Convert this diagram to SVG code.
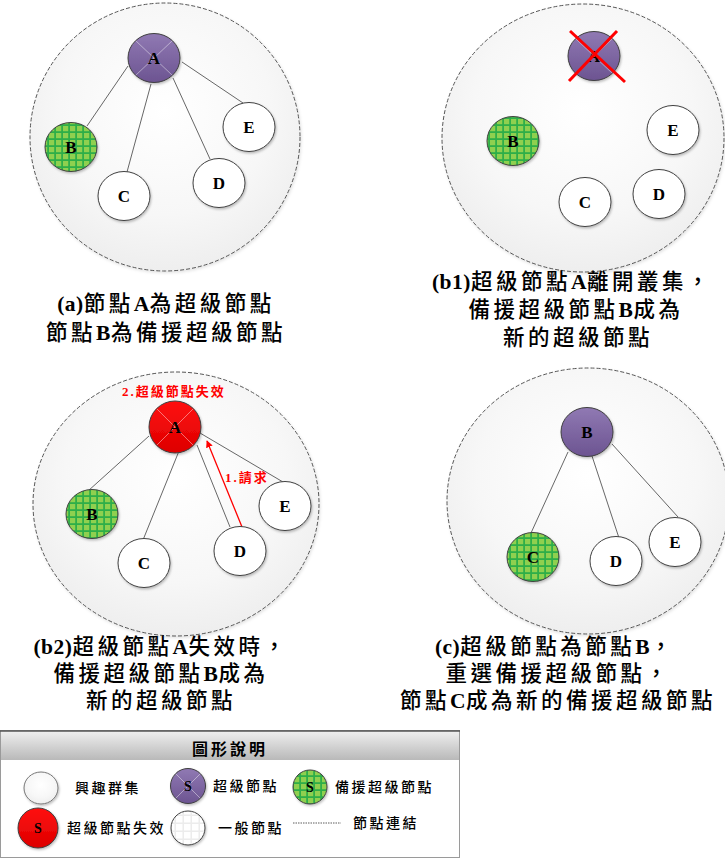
<svg xmlns="http://www.w3.org/2000/svg" width="725" height="858" viewBox="0 0 725 858">
<style>
.grp{fill:url(#gGrp);stroke:#555;stroke-width:1;stroke-dasharray:4 2}
.sup{fill:url(#gPur);stroke:#3f3f3f;stroke-width:1}
.bak{fill:url(#pGreen);stroke:#404040;stroke-width:1}
.nor{fill:#fff;stroke:#404040;stroke-width:1}
.fail{fill:url(#gRed);stroke:#3f3f3f;stroke-width:1}
.xl{stroke:#fff;stroke-opacity:0.55;stroke-width:0.8}
.lnk{stroke:#404040;stroke-width:0.8;fill:none}
.lbl{font-family:"Liberation Serif",serif;font-weight:bold;font-size:17px;fill:#000;text-anchor:middle}
.cap{font-family:"Liberation Serif","Noto Sans CJK TC",serif;font-size:21.5px;letter-spacing:3.5px;fill:#000;text-anchor:middle;font-weight:500}
.b{font-weight:bold;letter-spacing:0.5px}
.red{font-family:"Liberation Serif","Noto Sans CJK TC",serif;font-size:13px;letter-spacing:2px;fill:#ff0000;font-weight:bold}
.leg{font-family:"Liberation Serif","Noto Sans CJK TC",serif;font-size:14px;letter-spacing:2.5px;fill:#000;font-weight:500}
.sl{font-family:"Liberation Serif",serif;font-weight:bold;font-size:14px;fill:#000;text-anchor:middle}
.sh{filter:url(#shadow)}
.shs{filter:url(#shadowS)}
</style>
<defs>
<radialGradient id="gGrp" cx="0.5" cy="0.4" r="0.65">
<stop offset="0" stop-color="#ffffff"/>
<stop offset="0.6" stop-color="#f7f7f7"/>
<stop offset="1" stop-color="#ececec"/>
</radialGradient>
<linearGradient id="gPur" x1="0" y1="0" x2="0" y2="1">
<stop offset="0" stop-color="#9079b3"/>
<stop offset="1" stop-color="#6c5491"/>
</linearGradient>
<linearGradient id="gRed" x1="0" y1="0" x2="0" y2="1">
<stop offset="0" stop-color="#ff1010"/>
<stop offset="1" stop-color="#dd0000"/>
</linearGradient>
<linearGradient id="gHead" x1="0" y1="0" x2="0" y2="1">
<stop offset="0" stop-color="#efefef"/>
<stop offset="1" stop-color="#b9b9b9"/>
</linearGradient>
<pattern id="pGreen" width="7" height="7" patternUnits="userSpaceOnUse">
<rect width="7" height="7" fill="#2fae48"/>
<rect x="0" y="0" width="5.2" height="5.2" fill="#8fd04f"/>
</pattern>
<pattern id="pGrey" width="8" height="8" patternUnits="userSpaceOnUse">
<rect width="8" height="8" fill="#ececec"/>
<rect x="0" y="0" width="6.5" height="6.5" fill="#ffffff"/>
</pattern>
<filter id="shadow" x="-20%" y="-20%" width="140%" height="140%">
<feDropShadow dx="1" dy="1.5" stdDeviation="1.2" flood-color="#000" flood-opacity="0.25"/>
</filter>
<filter id="shadowS" x="-10%" y="-10%" width="120%" height="120%">
<feDropShadow dx="1" dy="1.5" stdDeviation="1.5" flood-color="#000" flood-opacity="0.12"/>
</filter>
<marker id="arrR" viewBox="0 0 10 10" refX="9" refY="5" markerWidth="7" markerHeight="7" orient="auto" markerUnits="userSpaceOnUse">
<path d="M0,0 L10,5 L0,10 z" fill="#ff0000"/>
</marker>
</defs>

<!-- Panel (a) -->
<g id="panel-a">
<ellipse id="group-a" class="grp shs" cx="165" cy="137" rx="135" ry="134"/>
<g id="links-a">
<line class="lnk" x1="128" y1="66" x2="87" y2="126"/>
<line class="lnk" x1="151" y1="84" x2="127" y2="172"/>
<line class="lnk" x1="173" y1="78" x2="210" y2="159"/>
<line class="lnk" x1="182" y1="62" x2="243" y2="103"/>
</g>
<g id="a-A"><ellipse class="sup sh" cx="154" cy="58" rx="26" ry="24.5"/><line class="xl" x1="136" y1="41" x2="172" y2="75"/><line class="xl" x1="172" y1="41" x2="136" y2="75"/><text class="lbl" x="154" y="64">A</text></g>
<g id="a-B"><ellipse class="bak sh" cx="71" cy="147" rx="26" ry="24.5"/><text class="lbl" x="71" y="153">B</text></g>
<g id="a-C"><ellipse class="nor sh" cx="124" cy="196" rx="26" ry="24.5"/><text class="lbl" x="124" y="202">C</text></g>
<g id="a-D"><ellipse class="nor sh" cx="219" cy="183" rx="26" ry="24.5"/><text class="lbl" x="219" y="189">D</text></g>
<g id="a-E"><ellipse class="nor sh" cx="249" cy="127" rx="26" ry="24.5"/><text class="lbl" x="249" y="133">E</text></g>
<text id="cap-a" class="cap"><tspan x="166" y="311"><tspan class="b">(a)</tspan>節點<tspan class="b">A</tspan>為超級節點</tspan><tspan x="166" y="340">節點<tspan class="b">B</tspan>為備援超級節點</tspan></text>
</g>

<!-- Panel (b1) -->
<g id="panel-b1">
<ellipse id="group-b1" class="grp shs" cx="583" cy="138" rx="141" ry="134"/>
<g id="b1-A"><ellipse class="sup sh" cx="594" cy="56" rx="26" ry="24.5"/><line class="xl" x1="576" y1="39" x2="612" y2="73"/><line class="xl" x1="612" y1="39" x2="576" y2="73"/><text class="lbl" x="594" y="62">A</text>
<line x1="570" y1="31" x2="625" y2="82" stroke="#ff0000" stroke-width="3"/><line x1="617" y1="31" x2="569" y2="81" stroke="#ff0000" stroke-width="3"/></g>
<g id="b1-B"><ellipse class="bak sh" cx="513" cy="141" rx="26" ry="24.5"/><text class="lbl" x="513" y="147">B</text></g>
<g id="b1-C"><ellipse class="nor sh" cx="585" cy="202" rx="26" ry="24.5"/><text class="lbl" x="585" y="208">C</text></g>
<g id="b1-D"><ellipse class="nor sh" cx="659" cy="194" rx="26" ry="24.5"/><text class="lbl" x="659" y="200">D</text></g>
<g id="b1-E"><ellipse class="nor sh" cx="673" cy="130" rx="26" ry="24.5"/><text class="lbl" x="673" y="136">E</text></g>
<text id="cap-b1" class="cap"><tspan x="572" y="289"><tspan class="b">(b1)</tspan>超級節點<tspan class="b">A</tspan>離開叢集，</tspan><tspan x="576" y="317">備援超級節點<tspan class="b">B</tspan>成為</tspan><tspan x="578" y="345">新的超級節點</tspan></text>
</g>

<!-- Panel (b2) -->
<g id="panel-b2">
<ellipse id="group-b2" class="grp shs" cx="176" cy="504" rx="143" ry="132"/>
<g id="links-b2">
<line class="lnk" x1="149" y1="436" x2="88" y2="491"/>
<line class="lnk" x1="179" y1="451" x2="143" y2="540"/>
<line class="lnk" x1="197" y1="445" x2="230" y2="527"/>
<line class="lnk" x1="200" y1="433" x2="283" y2="482"/>
<line x1="242" y1="527" x2="207" y2="441" stroke="#ff0000" stroke-width="1.3" marker-end="url(#arrR)"/>
</g>
<g id="b2-A"><ellipse class="fail sh" cx="175" cy="427" rx="26" ry="26"/><line class="xl" x1="157" y1="409" x2="193" y2="445"/><line class="xl" x1="193" y1="409" x2="157" y2="445"/><text class="lbl" x="175" y="433">A</text></g>
<g id="b2-B"><ellipse class="bak sh" cx="92" cy="514" rx="26" ry="24.5"/><text class="lbl" x="92" y="520">B</text></g>
<g id="b2-C"><ellipse class="nor sh" cx="144" cy="563" rx="26" ry="24.5"/><text class="lbl" x="144" y="569">C</text></g>
<g id="b2-D"><ellipse class="nor sh" cx="240" cy="551" rx="26" ry="24.5"/><text class="lbl" x="240" y="557">D</text></g>
<g id="b2-E"><ellipse class="nor sh" cx="285" cy="506" rx="26" ry="24.5"/><text class="lbl" x="285" y="512">E</text></g>
<text class="red" x="122" y="396">2.超級節點失效</text>
<text class="red" x="225" y="482">1.請求</text>
<text id="cap-b2" class="cap"><tspan x="161" y="654"><tspan class="b">(b2)</tspan>超級節點<tspan class="b">A</tspan>失效時，</tspan><tspan x="161" y="681">備援超級節點<tspan class="b">B</tspan>成為</tspan><tspan x="161" y="708">新的超級節點</tspan></text>
</g>

<!-- Panel (c) -->
<g id="panel-c">
<ellipse id="group-c" class="grp shs" cx="588" cy="501" rx="141" ry="133"/>
<g id="links-c">
<line class="lnk" x1="568" y1="452" x2="531" y2="533"/>
<line class="lnk" x1="592" y1="456" x2="619" y2="538"/>
<line class="lnk" x1="612" y1="444" x2="678" y2="517"/>
</g>
<g id="c-B"><ellipse class="sup sh" cx="587" cy="432" rx="26" ry="24.5"/><text class="lbl" x="587" y="438">B</text></g>
<g id="c-C"><ellipse class="bak sh" cx="533" cy="557" rx="26" ry="24.5"/><text class="lbl" x="533" y="563">C</text></g>
<g id="c-D"><ellipse class="nor sh" cx="616" cy="561" rx="26" ry="24.5"/><text class="lbl" x="616" y="567">D</text></g>
<g id="c-E"><ellipse class="nor sh" cx="675" cy="542" rx="26" ry="24.5"/><text class="lbl" x="675" y="548">E</text></g>
<text id="cap-c" class="cap"><tspan x="555" y="654"><tspan class="b">(c)</tspan>超級節點為節點<tspan class="b">B</tspan>，</tspan><tspan x="558" y="681">重選備援超級節點，</tspan><tspan x="558" y="708">節點<tspan class="b">C</tspan>成為新的備援超級節點</tspan></text>
</g>

<!-- Legend -->
<g id="legend">
<rect x="0.5" y="730.5" width="459" height="127" fill="#fff" stroke="#9a9a9a" stroke-width="1"/>
<rect x="1" y="731" width="458" height="29" fill="url(#gHead)"/>
<line x1="0" y1="731" x2="460" y2="731" stroke="#555" stroke-width="1.5"/>
<text x="230" y="755" text-anchor="middle" style="font-family:'Noto Sans CJK TC',sans-serif;font-size:16px;font-weight:bold;letter-spacing:3px">圖形說明</text>
<g id="leg-group"><ellipse cx="41" cy="788" rx="17" ry="16" fill="url(#gGrp)" stroke="#777" stroke-width="1" class="sh"/><text class="leg" x="75" y="793">興趣群集</text></g>
<g id="leg-super"><circle class="sup sh" cx="188" cy="786" r="17.5"/><line class="xl" x1="176" y1="774" x2="200" y2="798"/><line class="xl" x1="200" y1="774" x2="176" y2="798"/><text class="sl" x="188" y="791">S</text><text class="leg" x="213" y="791">超級節點</text></g>
<g id="leg-backup"><circle class="bak sh" cx="310" cy="787" r="17"/><text class="sl" x="310" y="792">S</text><text class="leg" x="335" y="792">備援超級節點</text></g>
<g id="leg-fail"><circle class="fail sh" cx="38" cy="828" r="20"/><text class="sl" x="38" y="833">S</text><text class="leg" x="67" y="833">超級節點失效</text></g>
<g id="leg-normal"><circle cx="188" cy="828" r="17" fill="url(#pGrey)" stroke="#404040" stroke-width="1" class="sh"/><text class="leg" x="218" y="833">一般節點</text></g>
<g id="leg-link"><line x1="293" y1="823" x2="341" y2="823" stroke="#333" stroke-width="0.8" stroke-dasharray="1.5 1"/><text class="leg" x="353" y="828">節點連結</text></g>
</g>
</svg>
